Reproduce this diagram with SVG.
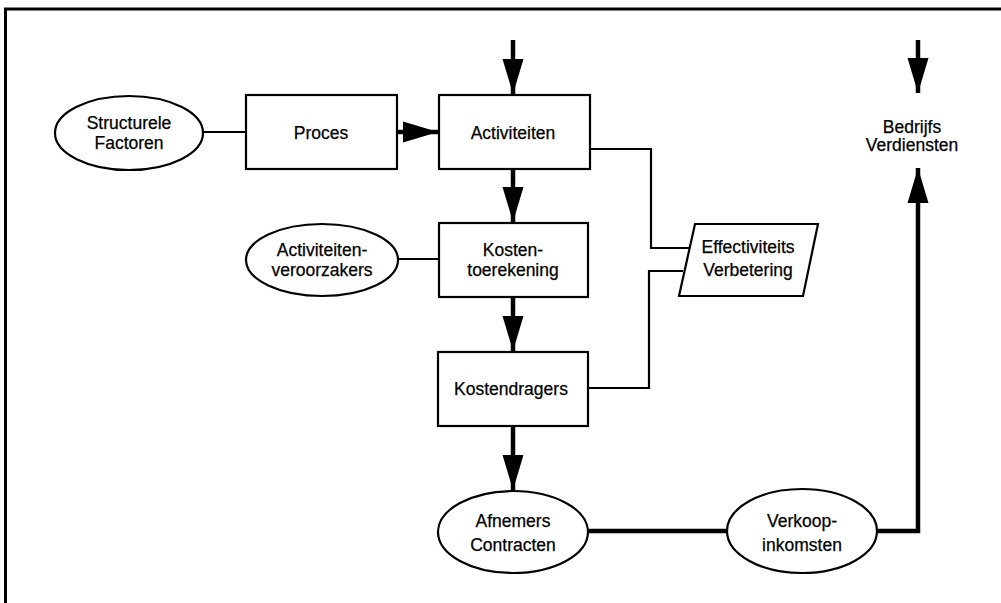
<svg xmlns="http://www.w3.org/2000/svg" width="1001" height="603" viewBox="0 0 1001 603">
  <style>
    .shape { fill: #fff; stroke: #000; stroke-width: 2.2; }
    .thin { fill: none; stroke: #000; stroke-width: 2.2; }
    .thick { fill: none; stroke: #000; stroke-width: 4.5; }
    .label { font-family: "Liberation Sans", Arial, sans-serif; font-size: 17.5px; fill: #000; stroke: #000; stroke-width: 0.25; text-anchor: middle; }
    .frame { fill: none; stroke: #000; stroke-width: 3; }
  </style>
  <defs>
    <marker id="head" markerUnits="userSpaceOnUse" markerWidth="38" markerHeight="24" refX="35" refY="12" orient="auto">
      <path d="M0,1.5 L35,12 L0,22.5 z" fill="#000"/>
    </marker>
  </defs>
  <rect width="1001" height="603" fill="#fff"/>

  <!-- page frame: top and left edges -->
  <path class="frame" d="M5.5,603 L5.5,9 L1001,9"/>

  <!-- connectors -->
  <g id="connectors">
    <line class="thin" x1="203" y1="132" x2="246" y2="132"/>
    <line class="thick" x1="397" y1="132" x2="438" y2="132" marker-end="url(#head)"/>
    <line class="thick" x1="513" y1="40" x2="513" y2="94" marker-end="url(#head)"/>
    <line class="thick" x1="513" y1="169" x2="513" y2="222" marker-end="url(#head)"/>
    <line class="thin" x1="398" y1="259" x2="439" y2="259"/>
    <line class="thick" x1="513" y1="297" x2="513" y2="351" marker-end="url(#head)"/>
    <line class="thick" x1="513" y1="426" x2="513" y2="490" marker-end="url(#head)"/>
    <polyline class="thin" points="590,149 651,149 651,248 689,248"/>
    <polyline class="thin" points="588,388 649,388 649,271 683,271"/>
    <line class="thick" x1="588" y1="531" x2="727" y2="531"/>
    <polyline class="thick" points="877,531 918,531 918,168" marker-end="url(#head)"/>
    <line class="thick" x1="918" y1="40" x2="918" y2="93" marker-end="url(#head)"/>
  </g>

  <g id="structurele-factoren">
    <ellipse class="shape" cx="129" cy="133" rx="74" ry="37"/>
    <text class="label" x="129" y="129">Structurele</text>
    <text class="label" x="129" y="149">Factoren</text>
  </g>

  <g id="proces">
    <rect class="shape" x="246" y="95" width="151" height="74"/>
    <text class="label" x="321" y="139">Proces</text>
  </g>

  <g id="activiteiten">
    <rect class="shape" x="439" y="95" width="151" height="74"/>
    <text class="label" x="513" y="139">Activiteiten</text>
  </g>

  <g id="activiteiten-veroorzakers">
    <ellipse class="shape" cx="322" cy="260" rx="76" ry="36"/>
    <text class="label" x="322" y="256">Activiteiten-</text>
    <text class="label" x="322" y="276">veroorzakers</text>
  </g>

  <g id="kostentoerekening">
    <rect class="shape" x="439" y="223" width="149" height="74"/>
    <text class="label" x="513" y="256">Kosten-</text>
    <text class="label" x="513" y="276">toerekening</text>
  </g>

  <g id="effectiviteits-verbetering">
    <polygon class="shape" points="695,224 818,224 803,296 679,296"/>
    <text class="label" x="748" y="253">Effectiviteits</text>
    <text class="label" x="748" y="276">Verbetering</text>
  </g>

  <g id="kostendragers">
    <rect class="shape" x="438" y="352" width="150" height="74"/>
    <text class="label" x="511" y="395">Kostendragers</text>
  </g>

  <g id="afnemers-contracten">
    <ellipse class="shape" cx="513" cy="532" rx="75" ry="41"/>
    <text class="label" x="513" y="527">Afnemers</text>
    <text class="label" x="513" y="551">Contracten</text>
  </g>

  <g id="verkoop-inkomsten">
    <ellipse class="shape" cx="802" cy="531" rx="75" ry="42"/>
    <text class="label" x="802" y="527">Verkoop-</text>
    <text class="label" x="802" y="551">inkomsten</text>
  </g>

  <g id="bedrijfs-verdiensten">
    <text class="label" x="912" y="133">Bedrijfs</text>
    <text class="label" x="912" y="151">Verdiensten</text>
  </g>
</svg>
